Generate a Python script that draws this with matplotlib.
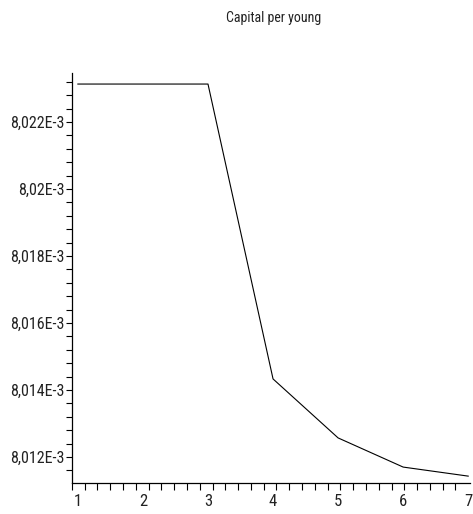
import matplotlib
matplotlib.use('Agg')
import numpy as np
import matplotlib.pyplot as plt
from matplotlib.ticker import FixedLocator, FixedFormatter, MultipleLocator
from matplotlib import font_manager

# data
periods = [1, 2, 3, 4, 5, 6, 7]
capital = [8.02313e-3, 8.02313e-3, 8.02313e-3, 8.01433e-3, 8.01257e-3, 8.01170e-3, 8.01143e-3]
ytick_vals = [8.012e-3, 8.014e-3, 8.016e-3, 8.018e-3, 8.020e-3, 8.022e-3]
ytick_labels = ['8,012E-3', '8,014E-3', '8,016E-3', '8,018E-3', '8,02E-3', '8,022E-3']
xtick_labels = ['1', '2', '3', '4', '5', '6', '7']

# narrow font like the original, first one that is installed
installed = {f.name for f in font_manager.fontManager.ttflist}
candidates = ['Liberation Sans Narrow', 'Arimo Narrow', 'Roboto Condensed',
              'Archivo Narrow', 'Barlow Condensed', 'Asap Condensed']
fam = next((c for c in candidates if c in installed), 'DejaVu Sans')
plt.rcParams['font.family'] = [fam, 'DejaVu Sans']

fig = plt.figure(figsize=(4.73, 5.14), dpi=100)
ax = fig.add_axes([0.152, 0.060, 0.842, 0.798])

ax.plot(periods, capital, color='black', lw=0.8)

x0, x1 = 0.908, 7.03
ax.set_xlim(x0, x1)
ax.set_ylim(8.01122e-3, 8.02346e-3)

ax.spines['top'].set_visible(False)
ax.spines['right'].set_visible(False)
for s in ['left', 'bottom']:
    ax.spines[s].set_linewidth(0.9)

# x ticks in the reference start at the axis origin, 31 steps to the end
ax.xaxis.set_major_locator(FixedLocator(periods))
ax.xaxis.set_major_formatter(FixedFormatter(xtick_labels))
ax.xaxis.set_minor_locator(FixedLocator(np.linspace(x0, 7, 32)))
ax.yaxis.set_major_locator(FixedLocator(ytick_vals))
ax.yaxis.set_major_formatter(FixedFormatter(ytick_labels))
ax.yaxis.set_minor_locator(MultipleLocator(0.0004e-3))

ax.tick_params(axis='both', which='both', direction='out', width=0.8,
               labelcolor='#222222')
ax.tick_params(axis='x', which='major', length=0, pad=8, labelsize=12)
ax.tick_params(axis='x', which='minor', length=5)
ax.tick_params(axis='y', which='both', length=4, pad=1, labelsize=11.5)

fig.text(0.578, 0.965, 'Capital per young', ha='center', va='center',
         fontsize=10, color='#222222')

fig.savefig('out.png', dpi=100)
